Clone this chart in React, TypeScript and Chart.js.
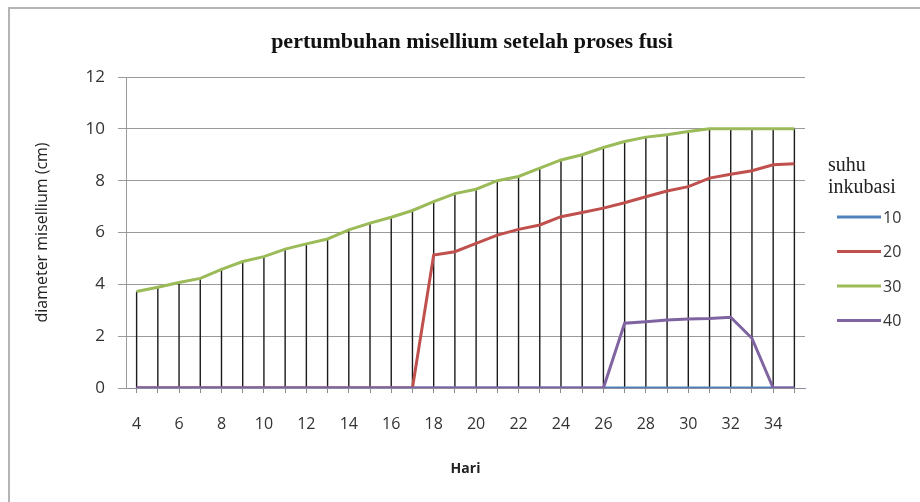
import React, { useEffect, useRef } from 'react';
import { Chart, registerables } from 'chart.js';

Chart.register(...registerables);

const days = [4, 5, 6, 7, 8, 9, 10, 11, 12, 13, 14, 15, 16, 17, 18, 19, 20, 21, 22, 23, 24, 25, 26, 27, 28, 29, 30, 31, 32, 33, 34, 35];

const suhu10 = [0, 0, 0, 0, 0, 0, 0, 0, 0, 0, 0, 0, 0, 0, 0, 0, 0, 0, 0, 0, 0, 0, 0, 0, 0, 0, 0, 0, 0, 0, 0, 0];
const suhu20 = [0, 0, 0, 0, 0, 0, 0, 0, 0, 0, 0, 0, 0, 0, 5.13, 5.26, 5.58, 5.9, 6.12, 6.29, 6.61, 6.77, 6.94, 7.15, 7.38, 7.6, 7.77, 8.1, 8.25, 8.38, 8.61, 8.65];
const suhu30 = [3.72, 3.89, 4.07, 4.23, 4.58, 4.88, 5.07, 5.36, 5.56, 5.75, 6.1, 6.36, 6.59, 6.85, 7.19, 7.5, 7.67, 8.0, 8.16, 8.48, 8.8, 9.0, 9.28, 9.51, 9.68, 9.77, 9.9, 10, 10, 10, 10, 10];
const suhu40 = [0, 0, 0, 0, 0, 0, 0, 0, 0, 0, 0, 0, 0, 0, 0, 0, 0, 0, 0, 0, 0, 0, 0, 2.5, 2.56, 2.62, 2.66, 2.68, 2.73, 1.92, 0, 0];

const seriesLabels = ['10', '20', '30', '40'];
const seriesColors = ['#4f81bd', '#c0504d', '#9bbb59', '#8064a2'];

const chartTitle = 'pertumbuhan misellium setelah proses fusi';
const legendTitle = ['suhu', 'inkubasi'];
const xTitle = 'Hari';
const yTitle = 'diameter misellium (cm)';

const SANS = '"Open Sans", "Noto Sans", sans-serif';
const SERIF = '"Liberation Serif", "DejaVu Serif", serif';

const decorPlugin = {
  id: 'decor',
  beforeDraw(chart: any) {
    const ctx = chart.ctx;
    ctx.save();
    ctx.fillStyle = '#ffffff';
    ctx.fillRect(0, 0, chart.width, chart.height);
    ctx.strokeStyle = '#b4b4b4';
    ctx.lineWidth = 2;
    ctx.beginPath();
    ctx.moveTo(9, chart.height);
    ctx.lineTo(9, 8);
    ctx.lineTo(chart.width, 8);
    ctx.stroke();
    ctx.restore();
  },
  beforeDatasetsDraw(chart: any) {
    const ctx = chart.ctx;
    const xs = chart.scales.x;
    const ys = chart.scales.y;
    const datasets = chart.data.datasets;
    ctx.save();
    ctx.strokeStyle = '#1a1a1a';
    ctx.lineWidth = 1.4;
    for (let i = 0; i < chart.data.labels.length; i++) {
      let max = 0;
      for (const ds of datasets) {
        const v = ds.data[i];
        if (v > max) max = v;
      }
      const x = xs.getPixelForValue(i);
      ctx.beginPath();
      ctx.moveTo(x, ys.getPixelForValue(max));
      ctx.lineTo(x, ys.getPixelForValue(0));
      ctx.stroke();
    }
    ctx.restore();
  },
  afterDraw(chart: any) {
    const ctx = chart.ctx;
    ctx.save();
    // chart title
    ctx.fillStyle = '#111';
    ctx.font = 'bold 22px ' + SERIF;
    ctx.textAlign = 'center';
    ctx.textBaseline = 'middle';
    ctx.fillText(chartTitle, 472, 42, 418);
    // legend
    ctx.textAlign = 'left';
    ctx.font = '20px ' + SERIF;
    ctx.fillStyle = '#222';
    legendTitle.forEach((t, i) => ctx.fillText(t, 828, 166 + i * 22));
    ctx.font = '16px ' + SANS;
    chart.data.datasets.forEach((ds: any, i: number) => {
      const y = 217 + i * 34.5;
      ctx.strokeStyle = ds.borderColor;
      ctx.lineWidth = 3;
      ctx.beginPath();
      ctx.moveTo(837, y);
      ctx.lineTo(881, y);
      ctx.stroke();
      ctx.fillStyle = '#333';
      ctx.fillText(ds.label, 883, y + 1);
    });
    ctx.restore();
  },
};

export default function App() {
  const ref = useRef<HTMLCanvasElement>(null);

  useEffect(() => {
    if (!ref.current) return;
    const series = [suhu10, suhu20, suhu30, suhu40];
    const chart = new Chart(ref.current, {
      type: 'line',
      data: {
        labels: days.map(String),
        datasets: series.map((d, i) => ({
          label: seriesLabels[i],
          data: d,
          borderColor: seriesColors[i],
          backgroundColor: seriesColors[i],
          borderWidth: 3,
          pointRadius: 0,
          tension: 0,
          order: 3 - i,
        })),
      },
      options: {
        animation: false,
        responsive: true,
        maintainAspectRatio: false,
        layout: { padding: { top: 77, right: 115, left: 0, bottom: 0 } },
        plugins: {
          legend: { display: false },
          title: { display: false },
          tooltip: { enabled: false },
        },
        scales: {
          x: {
            type: 'category',
            offset: true,
            grid: { drawOnChartArea: false, drawTicks: true, tickLength: 5, color: '#8c8c8c' },
            border: { color: '#8c8ca0', width: 1 },
            ticks: {
              autoSkip: false,
              maxRotation: 0,
              padding: 22,
              color: '#333',
              font: { family: SANS, size: 16 },
              callback: (_v: any, i: number) => (days[i] % 2 === 0 ? String(days[i]) : ''),
            },
            title: {
              display: true,
              text: xTitle,
              color: '#222',
              font: { family: SANS, size: 14, weight: 'bold' },
              padding: { top: 0, bottom: 25 },
            },
            afterFit: (s: any) => {
              s.height = 114;
            },
          },
          y: {
            min: 0,
            max: 12,
            grid: { color: '#9a9a9a', tickLength: 8, lineWidth: 1 },
            border: { color: '#9a9a9a', width: 1 },
            ticks: {
              stepSize: 2,
              padding: 13,
              color: '#333',
              font: { family: SANS, size: 17 },
            },
            title: {
              display: true,
              text: yTitle,
              color: '#222',
              font: { family: SANS, size: 16 },
              padding: { top: 33, bottom: 0 },
            },
            afterFit: (s: any) => {
              s.width = 126;
            },
          },
        },
      },
      plugins: [decorPlugin],
    } as any);
    return () => chart.destroy();
  }, []);

  return (
    <div style={{ position: 'fixed', left: 0, top: 0, width: 920, height: 502, background: '#fff' }}>
      <canvas ref={ref} />
    </div>
  );
}
